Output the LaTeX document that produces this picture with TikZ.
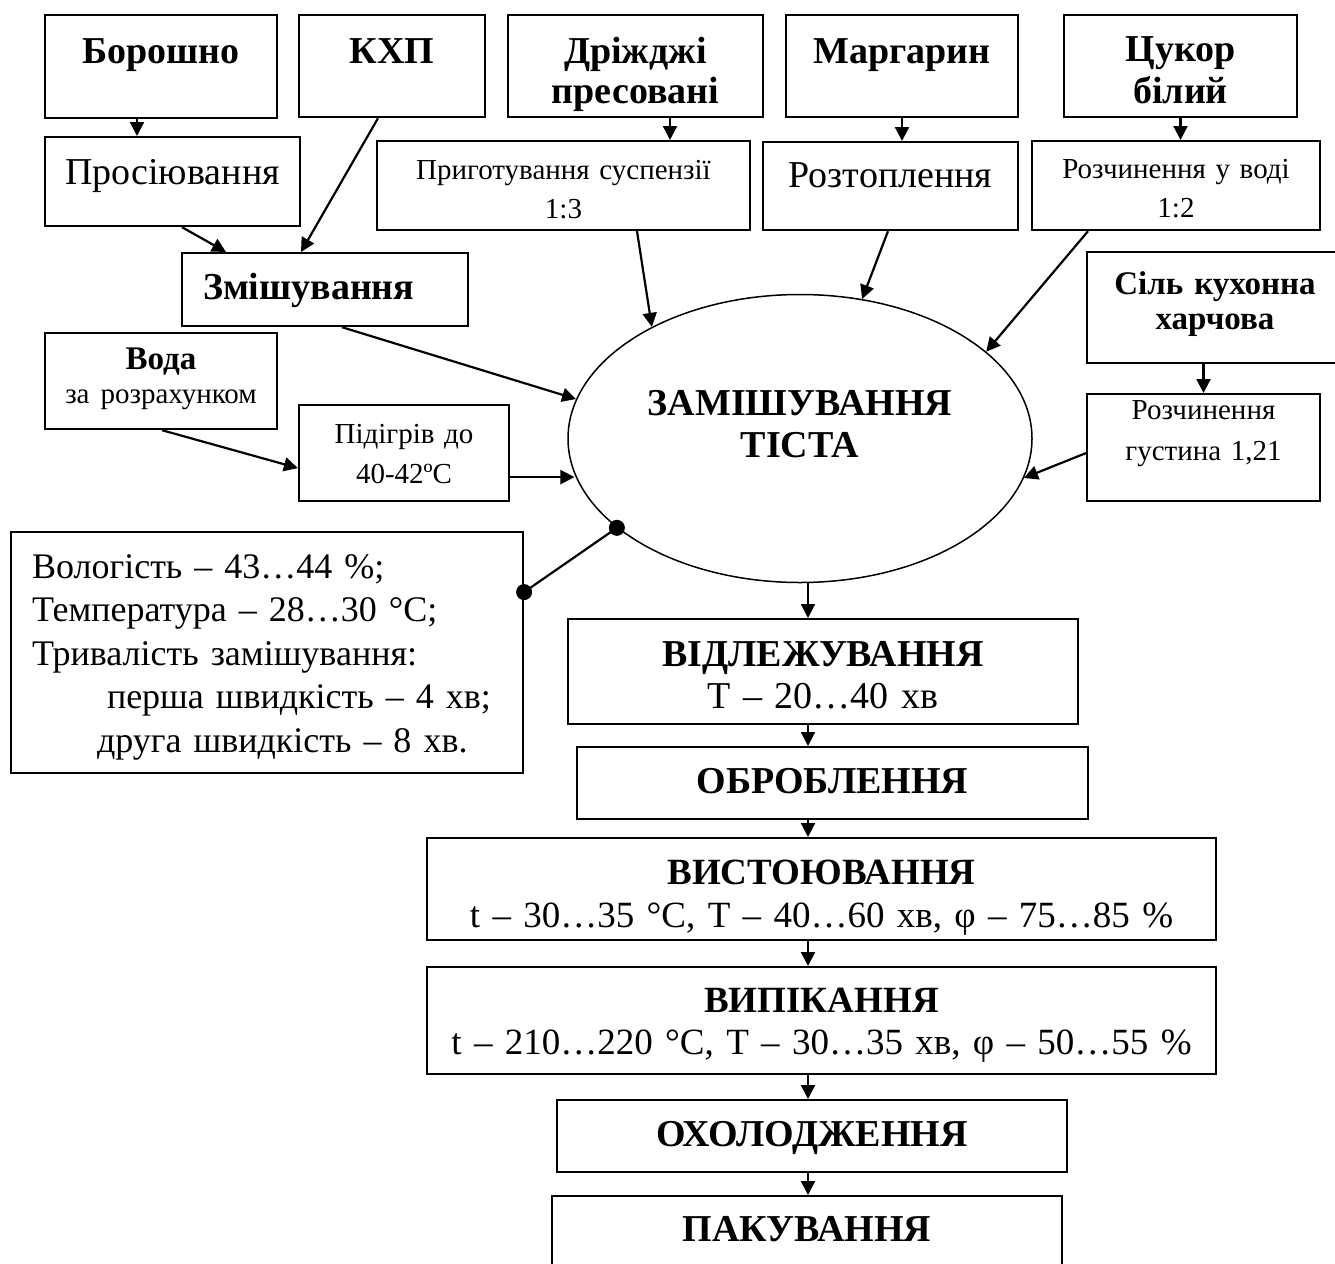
\documentclass[tikz,border=0pt]{standalone}
\usepackage{fontspec}
\setmainfont{Liberation Serif}
\usetikzlibrary{arrows.meta,shapes.geometric,calc}

\newcommand{\fbig}{\fontsize{38}{42}\selectfont}
\newcommand{\fmid}{\fontsize{33}{35}\selectfont}
\newcommand{\fsmall}{\fontsize{29}{39}\selectfont}

\begin{document}
\begin{tikzpicture}[x=1pt,y=-1pt,
    box/.style={draw,line width=2.2pt,inner sep=0pt,anchor=north,align=center},
    arr/.style={-{Triangle[length=14pt,width=14pt]},line width=2.2pt},
    blob/.style={circle,fill,inner sep=0pt,minimum size=16pt}]
    \useasboundingbox (0,0) rectangle (1335,1263);
    % сировина
    \node[box,text width=232pt,text height=48pt,text depth=55pt,font=\fbig\bfseries](boroshno) at (161,14){Борошно};
    \node[box,text width=186pt,text height=48pt,text depth=54pt,font=\fbig\bfseries](kxp) at (392,14){КХП};
    \node[box,text width=255pt,text height=48pt,text depth=54pt,font=\fontsize{38}{40}\selectfont\bfseries](drizh) at (635.5,14){Дріжджі\\пресовані};
    \node[box,text width=232pt,text height=48pt,text depth=54pt,font=\fbig\bfseries](marh) at (902,14){Маргарин};
    \node[box,text width=233pt,text height=46pt,text depth=56pt,font=\fbig\bfseries](tsukor) at (1180.5,14){Цукор\\білий};
    % підготовка
    \node[box,text width=255pt,text height=47pt,text depth=42pt,font=\fbig](prosiv) at (172.5,136){Просіювання};
    \node[box,text width=373pt,text height=38pt,text depth=51pt,font=\fsmall](pryhot) at (563.5,140){Приготування суспензії\\1:3};
    \node[box,text width=255pt,text height=45pt,text depth=43pt,font=\fbig](roztop) at (890.5,141){Розтоплення};
    \node[box,text width=288pt,text height=37pt,text depth=52pt,font=\fsmall](rozch1) at (1176,140){Розчинення у воді\\1:2};
    \node[box,inner xsep=21pt,text width=244pt,align=left,text height=46pt,text depth=27pt,font=\fbig\bfseries](zmish) at (325,252){Змішування};
    \node[box,text width=232pt,text height=36pt,text depth=60pt,font=\fontsize{33}{34}\selectfont](voda) at (161,332){\textbf{Вода}\\{\fontsize{29}{34}\selectfont за розрахунком}};
    \node[box,text width=210pt,text height=38pt,text depth=58pt,font=\fontsize{29}{40}\selectfont](pidih) at (404,404){Підігрів до\\40-42ºC};
    \node[box,text width=256pt,text height=42pt,text depth=69pt,font=\fmid\bfseries](sil) at (1215,251){Сіль кухонна\\харчова};
    \node[box,text width=233pt,text height=25pt,text depth=82pt,font=\fontsize{29}{41}\selectfont](rozch2) at (1203.5,393){Розчинення\\густина 1,21};
    % замішування
    \node[draw,ellipse,line width=1.5pt,minimum width=464pt,minimum height=288pt,inner sep=0pt,
        text width=320pt,align=center,text height=30pt,text depth=77pt,font=\fbig\bfseries](zam) at (800,438.5){ЗАМІШУВАННЯ\\ТІСТА};
    \node[box,inner xsep=21pt,text width=470pt,align=left,text height=46pt,text depth=195pt,font=\fontsize{36}{43.5}\selectfont](volo) at (267,531)
        {Вологість – 43…44 \%;\\Температура – 28…30 °C;\\Тривалість замішування:\\\hspace*{75pt}перша швидкість – 4 хв;\\\hspace*{65pt}друга швидкість – 8 хв.};
    % подальші стадії
    \node[box,text width=510pt,text height=47pt,text depth=58pt,font=\fbig](vidlezh) at (823,618){\textbf{ВІДЛЕЖУВАННЯ}\\Т – 20…40 хв};
    \node[box,text width=511pt,text height=46pt,text depth=26pt,font=\fbig\bfseries](obrob) at (832.5,746){ОБРОБЛЕННЯ};
    \node[box,text width=789pt,text height=46pt,text depth=56pt,font=\fontsize{37}{43}\selectfont](vystoyu) at (821.5,837){\textbf{ВИСТОЮВАННЯ}\\t – 30…35 °C, T – 40…60 хв, φ – 75…85 \%};
    \node[box,text width=789pt,text height=45pt,text depth=62pt,font=\fontsize{37}{42}\selectfont](vypik) at (821.5,966){\textbf{ВИПІКАННЯ}\\t – 210…220 °C, T – 30…35 хв, φ – 50…55 \%};
    \node[box,text width=510pt,text height=46pt,text depth=26pt,font=\fbig\bfseries](okholod) at (812,1099){ОХОЛОДЖЕННЯ};
    \node[box,text width=510pt,text height=45pt,text depth=50pt,font=\fbig\bfseries](pakuv) at (807,1195){ПАКУВАННЯ};
    \coordinate(axis) at (808,0);
    % стрілки
    \draw[arr]([xshift=-24pt]boroshno.south)to([xshift=-24pt]boroshno.south |- prosiv.north);
    \draw[arr]([xshift=-14pt]kxp.south)to([xshift=-24pt]zmish.north);
    \draw[arr]([xshift=9.5pt]prosiv.south)to([xshift=-99pt]zmish.north);
    \draw[arr]([xshift=34.5pt]drizh.south)to([xshift=34.5pt]drizh.south |- pryhot.north);
    \draw[arr](marh.south)to(marh.south |- roztop.north);
    \draw[arr](tsukor.south)to(tsukor.south |- rozch1.north);
    \draw[arr](rozch2.north |- sil.south)to(rozch2.north);
    \draw[arr]([xshift=73.5pt]pryhot.south)to(zam.143.4);
    \draw[arr]([xshift=-2.5pt]roztop.south)to(zam.66.1);
    \draw[arr]([xshift=-88pt]rozch1.south)to(zam.25.3);
    \draw[arr]([xshift=17pt]zmish.south)to(zam.170.8);
    \draw[arr]([xshift=1pt]voda.south)to([yshift=-15pt]pidih.west);
    \draw[arr]([yshift=-24pt]pidih.east)to([yshift=-24pt]pidih.east -| zam.189.5);
    \draw[arr]([yshift=-5.5pt]rozch2.west)to(zam.350.2);
    \draw[line width=2.2pt](zam.206.7)node[blob]{}to([yshift=60.5pt]volo.east)node[blob]{}; %параметри
    \draw[arr](zam.south -| axis)to(vidlezh.north -| axis);
    \draw[arr](vidlezh.south -| axis)to(obrob.north -| axis);
    \draw[arr](obrob.south -| axis)to(vystoyu.north -| axis);
    \draw[arr](vystoyu.south -| axis)to(vypik.north -| axis);
    \draw[arr](vypik.south -| axis)to(okholod.north -| axis);
    \draw[arr](okholod.south -| axis)to(pakuv.north -| axis);
\end{tikzpicture}
\end{document}
